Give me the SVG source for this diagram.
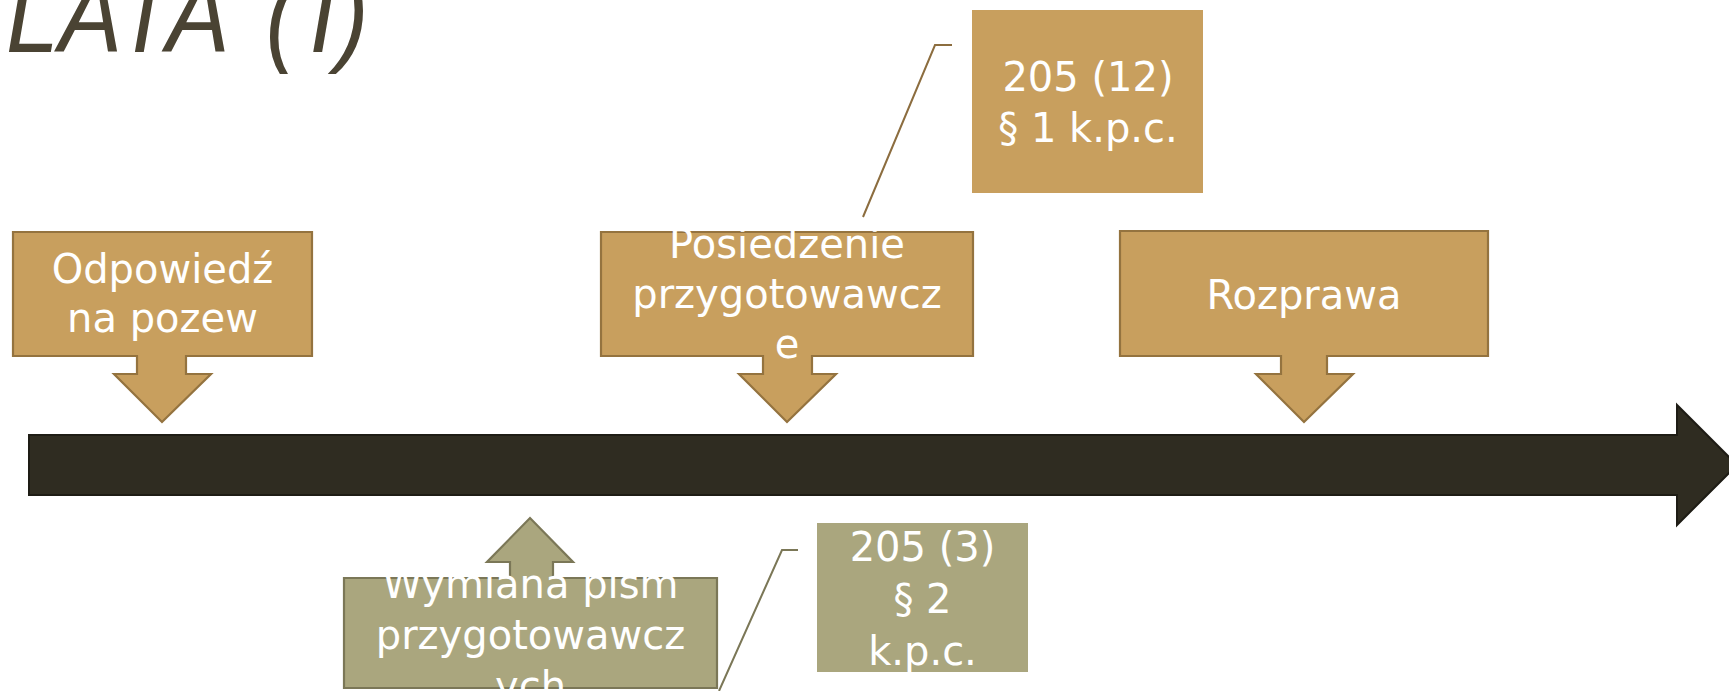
<svg xmlns="http://www.w3.org/2000/svg" width="1729" height="691" viewBox="0 0 1729 691">
<style>
.tan{fill:#C89F5E;stroke:#94733F;stroke-width:2.2;stroke-linejoin:miter}
.olive{fill:#AAA67E;stroke:#7B7757;stroke-width:2.2}
.tanbox{fill:#C89F5E}
.olivebox{fill:#AAA67E}
.lbl{font-family:"DejaVu Sans",Verdana,sans-serif;font-size:40px;fill:#FFFFFF;text-anchor:middle}
.title{font-family:"Liberation Sans",Arial,sans-serif;font-style:italic;font-size:108px;fill:#4A4333}
.conn{fill:none;stroke-width:2}
</style>
<rect width="1729" height="691" fill="#FFFFFF"/>
<text class="title" transform="translate(6,52) scale(0.88,1)" x="0" y="0">LATA <tspan x="295">(</tspan><tspan x="345">I</tspan><tspan x="376">)</tspan></text>

<g id="timeline">
<path d="M29,435 H1677 V405 L1737,465 L1677,525 V495 H29 Z" fill="#2F2C21" stroke="#1E1C15" stroke-width="2"/>
</g>

<g id="connectors">
<polyline class="conn" points="952,45 935,45 863,217" stroke="#8C6D3F"/>
<polyline class="conn" points="798,550 782,550 719,691" stroke="#7B7757"/>
</g>

<g id="odpowiedz">
<path class="tan" d="M13,232 H312 V356 H186 V374 H211 L162,422 L114,374 H137 V356 H13 Z"/>
<text class="lbl" x="162.5" y="283">Odpowiedź</text>
<text class="lbl" x="162.5" y="332">na pozew</text>
</g>

<g id="posiedzenie">
<path class="tan" d="M601,232 H973 V356 H812 V374 H836 L787,422 L739,374 H763 V356 H601 Z"/>
<text class="lbl" x="787" y="258">Posiedzenie</text>
<text class="lbl" x="787" y="308">przygotowawcz</text>
<text class="lbl" x="787" y="358">e</text>
</g>

<g id="rozprawa">
<path class="tan" d="M1120,231 H1488 V356 H1327 V374 H1353 L1304,422 L1256,374 H1281 V356 H1120 Z"/>
<text class="lbl" x="1304" y="309">Rozprawa</text>
</g>

<g id="wymiana">
<path class="olive" d="M344,578 H510 V562 H487 L530,518 L573,562 H553 V578 H717 V688 H344 Z"/>
<text class="lbl" x="530.5" y="598">Wymiana pism</text>
<text class="lbl" x="530.5" y="649">przygotowawcz</text>
<text class="lbl" x="530.5" y="700">ych</text>
</g>

<g id="art205-12">
<rect class="tanbox" x="972" y="10" width="231" height="183"/>
<text class="lbl" x="1088" y="91">205 (12)</text>
<text class="lbl" x="1088" y="142">§ 1 k.p.c.</text>
</g>

<g id="art205-3">
<rect class="olivebox" x="817" y="523" width="211" height="149"/>
<text class="lbl" x="922.5" y="561">205 (3)</text>
<text class="lbl" x="922.5" y="613">§ 2</text>
<text class="lbl" x="922.5" y="665">k.p.c.</text>
</g>
</svg>
